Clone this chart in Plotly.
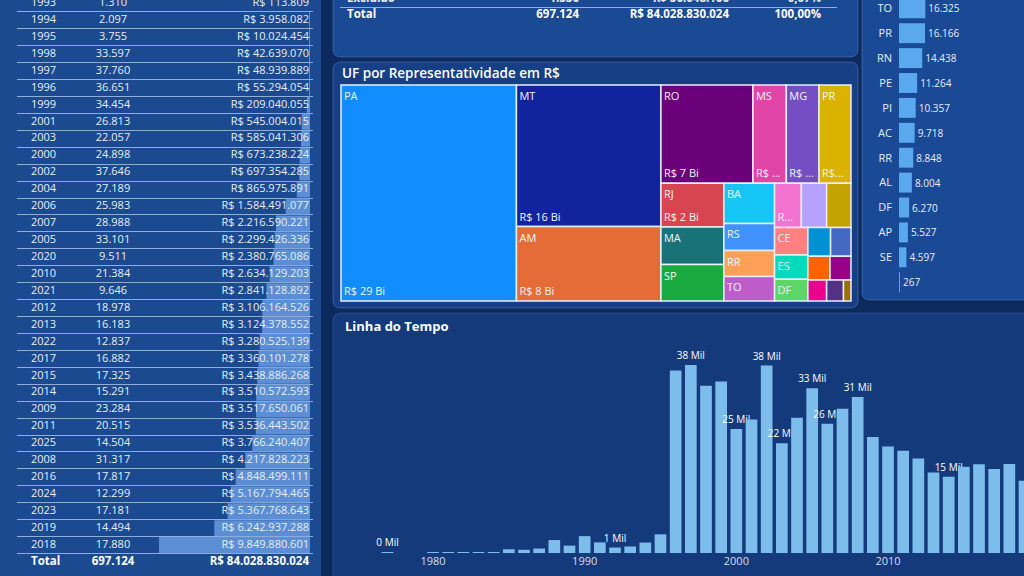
import plotly.graph_objects as go

W, H = 1024, 576
FONT = "Open Sans"

# ---------------- DATA ----------------
# Left table (sorted by R$ ascending)
tbl_years = ["1993", "1994", "1995", "1998", "1997", "1996", "1999", "2001", "2003", "2000",
             "2002", "2004", "2006", "2007", "2005", "2020", "2010", "2021", "2012", "2013",
             "2022", "2017", "2015", "2014", "2009", "2011", "2025", "2008", "2016", "2024",
             "2023", "2019", "2018"]
tbl_counts = [1310, 2097, 3755, 33597, 37760, 36651, 34454, 26813, 22057, 24898,
              37646, 27189, 25983, 28988, 33101, 9511, 21384, 9646, 18978, 16183,
              12837, 16882, 17325, 15291, 23284, 20515, 14504, 31317, 17817, 12299,
              17181, 14494, 17880]
tbl_values = [113809, 3958082, 10024454, 42639070, 48939889, 55294054, 209040055, 545004015,
              585041306, 673238224, 697354285, 865975891, 1584491077, 2216590221, 2299426336,
              2380765086, 2634129203, 2841128892, 3106164526, 3124378552, 3280525139,
              3360101278, 3438886268, 3510572593, 3517650061, 3536443502, 3766240407,
              4217828223, 4848499111, 5167794465, 5367768643, 6242937288, 9849880601]
tbl_total_label = "Total"
tbl_total_count = 697124
tbl_total_value = 84028830024

# Top table (situação) - only last rows visible
top_rows = ["Excluído", "Total"]
top_counts = [1536, 697124]
top_values = [56048166, 84028830024]
top_pct = ["0,07%", "100,00%"]

# Treemap: UF por representatividade em R$ (bilhões)
uf_names = ["PA", "MT", "AM", "RO", "MS", "MG", "PR", "RJ", "MA", "SP", "BA", "RS", "RR", "TO",
            "RN", "GO", "SC", "CE", "ES", "DF", "PE", "AC", "PI", "AL", "PB", "AP", "SE"]
uf_bi = [28.9, 15.6, 8.2, 6.9, 2.5, 2.45, 2.4, 2.1, 1.8, 1.75, 1.55, 1.05, 1.0, 0.95,
         0.9, 0.85, 0.82, 0.7, 0.62, 0.55, 0.5, 0.45, 0.4, 0.38, 0.3, 0.27, 0.12]
# labels as displayed (small tiles show no category label)
uf_shown = ["PA", "MT", "AM", "RO", "MS", "MG", "PR", "RJ", "MA", "SP", "BA", "RS", "RR", "TO",
            "", "", "", "CE", "ES", "DF", "", "", "", "", "", "", ""]
uf_value_labels = ["R$ 29 Bi", "R$ 16 Bi", "R$ 8 Bi", "R$ 7 Bi", "R$ ...", "R$ ...", "R$...",
                   "R$ 2 Bi", "", "", "", "", "", "", "R..."] + [""] * 12
uf_colors = ["#118DFF", "#12239E", "#E66C37", "#6B007B", "#E044A7", "#744EC2", "#D9B300",
             "#D64550", "#197278", "#1AAB40", "#15C6F4", "#4092FF", "#FFA058", "#BE5DC9",
             "#F472D0", "#B5A1FF", "#C4A200", "#FF8080", "#00DBBC", "#5BD667", "#0091D5",
             "#4668C5", "#FF6300", "#99008A", "#EC008C", "#533285", "#99700A"]

# Right bar chart: quantidade por UF (visible part)
cnt_uf = ["TO", "PR", "RN", "PE", "PI", "AC", "RR", "AL", "DF", "AP", "SE", " "]
cnt_vals = [16325, 16166, 14438, 11264, 10357, 9718, 8848, 8004, 6270, 5527, 4597, 267]

# Timeline: quantidade por ano
tl_years = [1977, 1980, 1981, 1982, 1983, 1984, 1985, 1986, 1987, 1988, 1989, 1990, 1991,
            1992, 1993, 1994, 1995, 1996, 1997, 1998, 1999, 2000, 2001, 2002, 2003, 2004,
            2005, 2006, 2007, 2008, 2009, 2010, 2011, 2012, 2013, 2014, 2015, 2016, 2017,
            2018, 2019, 2020, 2021, 2022, 2023, 2024, 2025]
tl_counts = [150, 150, 130, 160, 150, 140, 750, 640, 900, 2600, 1480, 3380, 2130,
             1100, 1310, 2097, 3755, 36651, 37760, 33597, 34454, 24898, 26813, 37646, 22057, 27189,
             33101, 25983, 28988, 31317, 23284, 21384, 20515, 18978, 16183, 15291, 17325, 17817, 16882,
             17880, 14494, 9511, 9646, 12837, 17181, 12299, 14504]
tl_labels = {1977: "0 Mil", 1992: "1 Mil", 1997: "38 Mil", 2000: "25 Mil", 2002: "38 Mil",
             2003: "22 Mil", 2005: "33 Mil", 2006: "26 Mil", 2008: "31 Mil", 2014: "15 Mil"}
tl_xticks = [1980, 1990, 2000, 2010, 2020]


def br(n):
    return f"{n:,}".replace(",", ".")


def px_x(p):
    return p / W


def px_y(p):
    return 1 - p / H


# ---------------- COLORS ----------------
PAGE_BG = "#0D2A5E"
TXT = "#E8EEF7"
TXT_W = "#FFFFFF"
GRID = "rgba(185,205,240,0.75)"

fig = go.Figure()

# ----- Left table: data bars (x / y) -----
rows = list(range(len(tbl_years)))
fig.add_trace(go.Bar(
    x=tbl_values, y=rows, orientation="h", xaxis="x", yaxis="y",
    marker=dict(color="#5B8ED4", line=dict(width=0)), width=0.94,
    hoverinfo="skip", showlegend=False))

# ----- Left table: text (x2 / y) -----
fig.add_trace(go.Scatter(
    x=[31] * len(rows), y=rows, text=tbl_years, mode="text", textposition="middle right",
    textfont=dict(family=FONT, size=11, color=TXT), xaxis="x2", yaxis="y",
    hoverinfo="skip", showlegend=False))
fig.add_trace(go.Scatter(
    x=[113] * len(rows), y=rows, text=[br(c) for c in tbl_counts], mode="text",
    textposition="middle center", textfont=dict(family=FONT, size=11, color=TXT),
    xaxis="x2", yaxis="y", hoverinfo="skip", showlegend=False))
fig.add_trace(go.Scatter(
    x=[309] * len(rows), y=rows, text=["R$ " + br(v) for v in tbl_values], mode="text",
    textposition="middle left", textfont=dict(family=FONT, size=11, color=TXT),
    xaxis="x2", yaxis="y", hoverinfo="skip", showlegend=False))
tot_row = len(rows)
fig.add_trace(go.Scatter(
    x=[31, 113, 309], y=[tot_row] * 3,
    text=[tbl_total_label, br(tbl_total_count), "R$ " + br(tbl_total_value)],
    mode="text", textposition=["middle right", "middle center", "middle left"],
    textfont=dict(family=FONT, size=11.5, color=TXT_W, weight=700),
    xaxis="x2", yaxis="y", hoverinfo="skip", showlegend=False))

# ----- Top table (x3 / y3) -----
top_idx = list(range(len(top_rows)))
for xpos, txts, pos in [
    (347, top_rows, "middle right"),
    (579, [br(c) for c in top_counts], "middle left"),
    (729, ["R$ " + br(v) for v in top_values], "middle left"),
    (821, top_pct, "middle left"),
]:
    fig.add_trace(go.Scatter(
        x=[xpos] * len(top_idx), y=top_idx, text=txts, mode="text", textposition=pos,
        textfont=dict(family=FONT, size=11.5, color=[TXT, TXT_W], weight=700),
        xaxis="x3", yaxis="y3", hoverinfo="skip", showlegend=False))

# ----- Treemap -----
tm_dom = dict(x=[px_x(341), px_x(851)], y=[px_y(301), px_y(85)])
PHI = 1.618034
nopad = dict(t=0, l=0, r=0, b=0)
fig.add_trace(go.Treemap(
    labels=uf_names, parents=[""] * len(uf_names), values=uf_bi, text=uf_shown,
    marker=dict(colors=uf_colors, line=dict(color="#E9EFF8", width=1.5), pad=nopad),
    texttemplate="%{text}", textposition="top left",
    textfont=dict(family=FONT, size=11, color="#F2F5FA"),
    tiling=dict(pad=0, packing="squarify", squarifyratio=PHI),
    pathbar=dict(visible=False), sort=True,
    domain=tm_dom, hoverinfo="skip"))
fig.add_trace(go.Treemap(
    labels=uf_names, parents=[""] * len(uf_names), values=uf_bi, text=uf_value_labels,
    marker=dict(colors=["rgba(0,0,0,0)"] * len(uf_names), line=dict(width=0), pad=nopad),
    texttemplate="%{text}", textposition="bottom left",
    textfont=dict(family=FONT, size=11, color="#F2F5FA"),
    tiling=dict(pad=0, packing="squarify", squarifyratio=PHI),
    pathbar=dict(visible=False), sort=True,
    domain=tm_dom, hoverinfo="skip"))

# ----- Right bar chart (x4 / y4) -----
fig.add_trace(go.Bar(
    x=cnt_vals, y=cnt_uf, orientation="h", xaxis="x4", yaxis="y4",
    marker=dict(color="#5AA8EE", line=dict(width=0)),
    text=[br(v) for v in cnt_vals], textposition="outside", constraintext="none",
    textfont=dict(family=FONT, size=11, color=TXT), cliponaxis=False,
    hoverinfo="skip", showlegend=False))

# ----- Timeline (x5 / y5) -----
fig.add_trace(go.Bar(
    x=tl_years, y=tl_counts, xaxis="x5", yaxis="y5", width=0.77,
    marker=dict(color="#7CBDEB", line=dict(width=0)),
    text=[tl_labels.get(y, "") for y in tl_years], textposition="outside",
    constraintext="none", cliponaxis=True,
    textfont=dict(family=FONT, size=10, color=TXT_W),
    hoverinfo="skip", showlegend=False))


# ---------------- PANELS ----------------
def rrect(x0, y0, x1, y1, r, fill, line=None):
    fx, fy = px_x, px_y
    p = (f"M {fx(x0 + r)},{fy(y0)} L {fx(x1 - r)},{fy(y0)} Q {fx(x1)},{fy(y0)} {fx(x1)},{fy(y0 + r)} "
         f"L {fx(x1)},{fy(y1 - r)} Q {fx(x1)},{fy(y1)} {fx(x1 - r)},{fy(y1)} "
         f"L {fx(x0 + r)},{fy(y1)} Q {fx(x0)},{fy(y1)} {fx(x0)},{fy(y1 - r)} "
         f"L {fx(x0)},{fy(y0 + r)} Q {fx(x0)},{fy(y0)} {fx(x0 + r)},{fy(y0)} Z")
    return dict(type="path", path=p, xref="paper", yref="paper", fillcolor=fill,
                line=dict(color=line or "rgba(0,0,0,0)", width=1 if line else 0), layer="below")


shapes = [
    rrect(-10, -10, 321, 590, 6, "#1B4A90"),
    rrect(333, -10, 858, 57, 8, "#1A4A94", "rgba(120,160,225,0.35)"),
    rrect(333, 62, 858, 308, 8, "#173F86", "rgba(120,160,225,0.35)"),
    rrect(862, -10, 1040, 300, 8, "#1A4996", "rgba(120,160,225,0.35)"),
    rrect(333, 313, 1040, 590, 8, "#153A7C", "rgba(120,160,225,0.25)"),
]

annotations = [
    dict(text="UF por Representatividade em R$", x=px_x(340), y=px_y(73), xref="paper", yref="paper",
         xanchor="left", yanchor="middle", showarrow=False,
         font=dict(family=FONT, size=13.5, color=TXT_W, weight=600)),
    dict(text="Linha do Tempo", x=px_x(343), y=px_y(326), xref="paper", yref="paper",
         xanchor="left", yanchor="middle", showarrow=False,
         font=dict(family=FONT, size=13, color=TXT_W, weight=700)),
]

# axis helpers
tbl_scale = 9849880601 / 151.0  # R$ per pixel of data bar
hidden = dict(showgrid=False, zeroline=False, showticklabels=False, ticks="", showline=False)

y_pix0 = 3.3
row_h = 16.93

fig.update_layout(
    width=W, height=H, margin=dict(l=0, r=0, t=0, b=0),
    paper_bgcolor=PAGE_BG, plot_bgcolor="rgba(0,0,0,0)",
    font=dict(family=FONT, color=TXT),
    showlegend=False, barmode="overlay",
    uniformtext=dict(minsize=9, mode="hide"),
    shapes=shapes, annotations=annotations,
    # left table
    xaxis=dict(domain=[px_x(17), px_x(313)],
               range=[(310 - 17) * tbl_scale, -(313 - 310) * tbl_scale],
               anchor="y", **hidden),
    xaxis2=dict(overlaying="x", range=[17, 313], anchor="y", **hidden),
    yaxis=dict(domain=[0, 1], anchor="x",
               range=[(H - y_pix0) / row_h, -y_pix0 / row_h],
               tickvals=[i + 0.5 for i in range(len(tbl_years))],
               showgrid=True, gridcolor=GRID, gridwidth=1,
               zeroline=False, showticklabels=False, ticks="", showline=False),
    # top table
    xaxis3=dict(domain=[px_x(340), px_x(837)], range=[340, 837], anchor="y3", **hidden),
    yaxis3=dict(domain=[px_y(40), 1], anchor="x3",
                range=[(40 + 1) / 16.5, (0 + 1) / 16.5],
                tickvals=[0.5], showgrid=True, gridcolor=GRID, gridwidth=1,
                zeroline=False, showticklabels=False, ticks="", showline=False),
    # right bar chart
    xaxis4=dict(domain=[px_x(899), 1], range=[0, 125 / 26.3 * 16325], anchor="y4", **hidden),
    yaxis4=dict(domain=[px_y(296), 1], anchor="x4", type="category",
                range=[(296 - 8.3) / 24.9, -8.3 / 24.9],
                showgrid=False, zeroline=False, showline=False, ticks="",
                ticklabelstandoff=6,
                tickfont=dict(family=FONT, size=11, color=TXT)),
    # timeline
    xaxis5=dict(domain=[px_x(340), 1],
                range=[1980 - (433 - 340) / 15.167, 1980 + (1024 - 433) / 15.167],
                anchor="y5", tickvals=tl_xticks, ticktext=[str(t) for t in tl_xticks],
                showgrid=False, zeroline=False, showline=False, ticks="",
                tickfont=dict(family=FONT, size=11, color="#D5DEEC")),
    yaxis5=dict(domain=[px_y(553), px_y(345)], anchor="x5",
                range=[0, 37760 * (553 - 345) / 188.0], **hidden),
)

fig.write_html("out.html")
